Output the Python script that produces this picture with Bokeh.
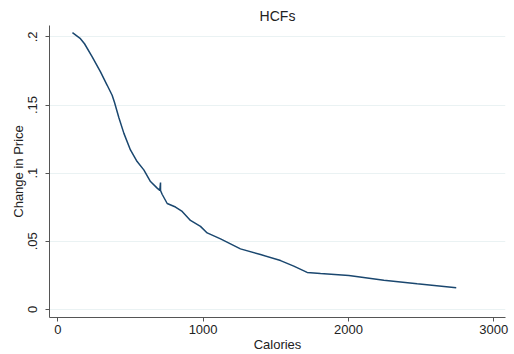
from bokeh.plotting import figure
from bokeh.models import FixedTicker, Range1d
from bokeh.embed import file_html
from bokeh.resources import INLINE

# Data
calories = [101, 156, 184, 237, 294, 340, 374, 390, 420, 455, 500, 546, 592, 638,
            684, 702, 707, 707, 718, 753, 810, 856, 913, 982, 1028, 1120, 1257,
            1395, 1533, 1624, 1716, 1808, 2003, 2244, 2473, 2742]
price_change = [0.2031, 0.1987, 0.1950, 0.1853, 0.1743, 0.1645, 0.1572, 0.1520,
                0.1408, 0.1292, 0.1170, 0.1085, 0.1024, 0.0938, 0.0890, 0.0873,
                0.0931, 0.0873, 0.0845, 0.0777, 0.0751, 0.0719, 0.0653, 0.0609,
                0.0561, 0.0517, 0.0444, 0.0402, 0.0358, 0.0317, 0.0271, 0.0263,
                0.0249, 0.0214, 0.0188, 0.0159]

x_ticks = [0, 1000, 2000, 3000]
y_ticks = [0, 0.05, 0.1, 0.15, 0.2]
y_tick_labels = ["0", ".05", ".1", ".15", ".2"]

title_text = "HCFs"
x_label = "Calories"
y_label = "Change in Price"

FONT = "Liberation Sans"
TEXT = "#222222"
AXIS = "#555555"

p = figure(width=514, height=354, output_backend="svg", toolbar_location=None,
           x_range=Range1d(-57, 3081), y_range=Range1d(-0.0060, 0.2084),
           min_border_left=49, min_border_right=9, min_border_top=25,
           min_border_bottom=36, background_fill_color="white",
           border_fill_color="white")

p.title.text = title_text
p.title.align = "center"
p.title.text_font = FONT
p.title.text_font_size = "14px"
p.title.text_font_style = "normal"
p.title.text_color = TEXT
p.title.standoff = 3
p.title.offset = 0

p.outline_line_color = None
p.xgrid.grid_line_color = None
p.ygrid.grid_line_color = "#eaf2f3"
p.ygrid.grid_line_width = 1
p.ygrid.ticker = FixedTicker(ticks=y_ticks)

p.line(calories, price_change, line_color="#1a476f", line_width=1.5)

p.xaxis.ticker = FixedTicker(ticks=x_ticks)
p.yaxis.ticker = FixedTicker(ticks=y_ticks)
p.yaxis.major_label_overrides = {t: l for t, l in zip(y_ticks, y_tick_labels)}
p.yaxis.major_label_orientation = "vertical"

for ax in (p.xaxis, p.yaxis):
    ax.axis_line_color = AXIS
    ax.major_tick_line_color = AXIS
    ax.minor_tick_line_color = None
    ax.major_tick_out = 4
    ax.major_tick_in = 0
    ax.major_label_text_font = FONT
    ax.major_label_text_font_size = "13px"
    ax.major_label_text_color = TEXT
    ax.axis_label_text_font = FONT
    ax.axis_label_text_font_size = "13px"
    ax.axis_label_text_font_style = "normal"
    ax.axis_label_text_color = TEXT

p.xaxis.axis_label = x_label
p.yaxis.axis_label = y_label
p.xaxis.major_label_standoff = 3
p.xaxis.axis_label_standoff = 0
p.yaxis.major_label_standoff = 8
p.yaxis.axis_label_standoff = 0

open("out.html", "w").write(file_html(p, INLINE))
